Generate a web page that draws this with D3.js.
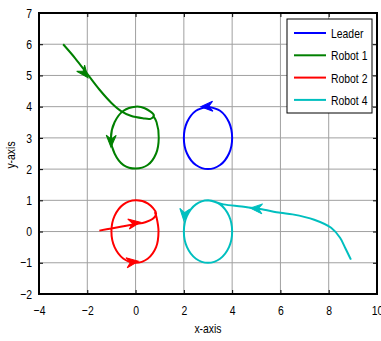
<!DOCTYPE html>
<html>
<head>
<meta charset="utf-8">
<script src="https://cdn.jsdelivr.net/npm/d3@7"></script>
<style>
  body { margin: 0; background: #fff; }
  svg text { font-family: "Liberation Sans", Arial, sans-serif; font-size: 13px; fill: #000; }
</style>
</head>
<body>
<div id="chart"></div>
<script>
// tick values
var xTicks = [-4, -2, 0, 2, 4, 6, 8, 10];
var yTicks = [-2, -1, 0, 1, 2, 3, 4, 5, 6, 7];

// series (x, y)
var leader = [[3,4],[2.5,3.87],[2.13,3.5],[2,3],[2.13,2.5],[2.5,2.13],[3,2],[3.5,2.13],
  [3.87,2.5],[4,3],[3.87,3.5],[3.5,3.87],[3,4]];
var robot1 = [[-3,6],[-2.5,5.55],[-2,5.05],[-1.5,4.55],[-1,4.12],[-0.6,3.86],[-0.2,3.71],
  [0.3,3.63],[0.62,3.61],[0.76,3.72],[0.38,3.95],[0,4],[-0.5,3.87],[-0.87,3.5],[-1.02,3],
  [-0.87,2.5],[-0.5,2.13],[0,2.02],[0.5,2.13],[0.85,2.5],[0.96,3],[0.87,3.5],[0.72,3.72]];
var robot2 = [[-1.5,0.03],[-1,0.1],[-0.5,0.17],[0,0.24],[0.4,0.3],[0.7,0.4],[0.85,0.58],
  [0.5,0.9],[0,1],[-0.5,0.87],[-0.87,0.5],[-1,0],[-0.87,-0.5],[-0.5,-0.87],[0,-1],
  [0.5,-0.87],[0.85,-0.5],[0.95,0],[0.87,0.45],[0.8,0.62]];
var robot4 = [[8.92,-0.9],[8.7,-0.55],[8.47,-0.2],[8.1,0.12],[7.4,0.38],[6.5,0.55],[6,0.6],
  [5.15,0.72],[4.4,0.8],[3.64,0.87],[3,1],[2.5,0.87],[2.13,0.5],[2,0],[2.13,-0.5],
  [2.5,-0.87],[3,-1],[3.5,-0.87],[3.87,-0.5],[4,0],[3.87,0.5],[3.5,0.87],[3,1]];

// arrowheads: tip x, tip y, direction dx, dy
var leaderArrows = [[2.7,4.0,-1,-0.03]];
var robot1Arrows = [[-1.97,4.93,0.5,-0.5],[-1.02,2.7,-0.03,-1]];
var robot2Arrows = [[0.2,0.3,1,0.12],[0.12,-0.95,1,0.1]];
var robot4Arrows = [[4.75,0.75,-1,0.05],[2.0,0.35,-0.1,-1]];

var names = ["Leader", "Robot 1", "Robot 2", "Robot 4"];
var colors = ["#0000ff", "#008000", "#ff0000", "#00bfbf"];
var series = [leader, robot1, robot2, robot4];
var arrows = [leaderArrows, robot1Arrows, robot2Arrows, robot4Arrows];

var margin = {top: 13, right: 4, bottom: 47, left: 39},
    width = 381 - margin.left - margin.right,
    height = 341 - margin.top - margin.bottom;

var svg = d3.select("#chart")
  .append("svg")
    .attr("width", 381)
    .attr("height", 341)
  .append("g")
    .attr("transform", "translate(" + margin.left + "," + margin.top + ")");

var x = d3.scaleLinear().domain([-4, 10]).range([0, width]);
var y = d3.scaleLinear().domain([-2, 7]).range([height, 0]);

// grid
svg.append("g").selectAll("line")
  .data(xTicks.slice(1, -1))
  .enter().append("line")
    .attr("x1", function(d) { return x(d); })
    .attr("x2", function(d) { return x(d); })
    .attr("y1", 0).attr("y2", height)
    .attr("stroke", "#a0a0a0").attr("stroke-width", 1);
svg.append("g").selectAll("line")
  .data(yTicks.slice(1, -1))
  .enter().append("line")
    .attr("y1", function(d) { return y(d); })
    .attr("y2", function(d) { return y(d); })
    .attr("x1", 0).attr("x2", width)
    .attr("stroke", "#a0a0a0").attr("stroke-width", 1);

// axes, ticks pointing inward on all four sides
function styleAxis(g) {
  g.select(".domain").remove();
  g.selectAll(".tick line").attr("stroke", "#000");
  g.selectAll("text").style("font-size", "13px");
}
svg.append("g")
  .attr("transform", "translate(0," + height + ")")
  .call(d3.axisBottom(x).tickValues(xTicks).tickSize(-4).tickPadding(12))
  .call(styleAxis);
svg.append("g")
  .call(d3.axisLeft(y).tickValues(yTicks).tickSize(-4).tickPadding(7))
  .call(styleAxis);
svg.append("g")
  .call(d3.axisTop(x).tickValues(xTicks).tickSize(-4).tickFormat(""))
  .call(styleAxis);
svg.append("g")
  .attr("transform", "translate(" + width + ",0)")
  .call(d3.axisRight(y).tickValues(yTicks).tickSize(-4).tickFormat(""))
  .call(styleAxis);

// lines
var line = d3.line()
  .x(function(d) { return x(d[0]); })
  .y(function(d) { return y(d[1]); })
  .curve(d3.curveCatmullRom.alpha(0.5));

series.forEach(function(s, i) {
  svg.append("path")
    .datum(s)
    .attr("fill", "none")
    .attr("stroke", colors[i])
    .attr("stroke-width", 2)
    .attr("d", line);
});

// arrowheads
arrows.forEach(function(list, i) {
  list.forEach(function(a) {
    var ang = Math.atan2(y(a[1] + a[3]) - y(a[1]), x(a[0] + a[2]) - x(a[0])) * 180 / Math.PI;
    svg.append("path")
      .attr("d", "M0,0L-12,-5L-8,0L-12,5Z")
      .attr("transform", "translate(" + x(a[0]) + "," + y(a[1]) + ")rotate(" + ang + ")")
      .attr("fill", colors[i])
      .attr("stroke", colors[i])
      .attr("stroke-width", 1);
  });
});

// box
svg.append("rect")
  .attr("width", width).attr("height", height)
  .attr("fill", "none").attr("stroke", "#000").attr("stroke-width", 2);

// legend
var legend = svg.append("g").attr("transform", "translate(" + (287 - margin.left) + "," + (19 - margin.top) + ")");
legend.append("rect")
  .attr("width", 85).attr("height", 94)
  .attr("fill", "#fff").attr("stroke", "#000").attr("stroke-width", 1);
names.forEach(function(n, i) {
  var yy = 14 + i * 22.3;
  legend.append("line")
    .attr("x1", 7).attr("x2", 39).attr("y1", yy).attr("y2", yy)
    .attr("stroke", colors[i]).attr("stroke-width", 2);
  legend.append("text")
    .attr("x", 44).attr("y", yy + 5)
    .text(n);
});

// axis labels
svg.append("text")
  .attr("x", x(3)).attr("y", height + 39)
  .attr("text-anchor", "middle")
  .text("x-axis");
svg.append("text")
  .attr("transform", "translate(" + (15 - margin.left) + "," + (155 - margin.top) + ")rotate(-90)")
  .attr("text-anchor", "middle")
  .text("y-axis");

// the reference uses a narrow font: squeeze every label
d3.selectAll("svg text").each(function() {
  var len = this.getComputedTextLength();
  if (len > 0) {
    d3.select(this)
      .attr("textLength", len * 0.8)
      .attr("lengthAdjust", "spacingAndGlyphs");
  }
});
</script>
</body>
</html>
